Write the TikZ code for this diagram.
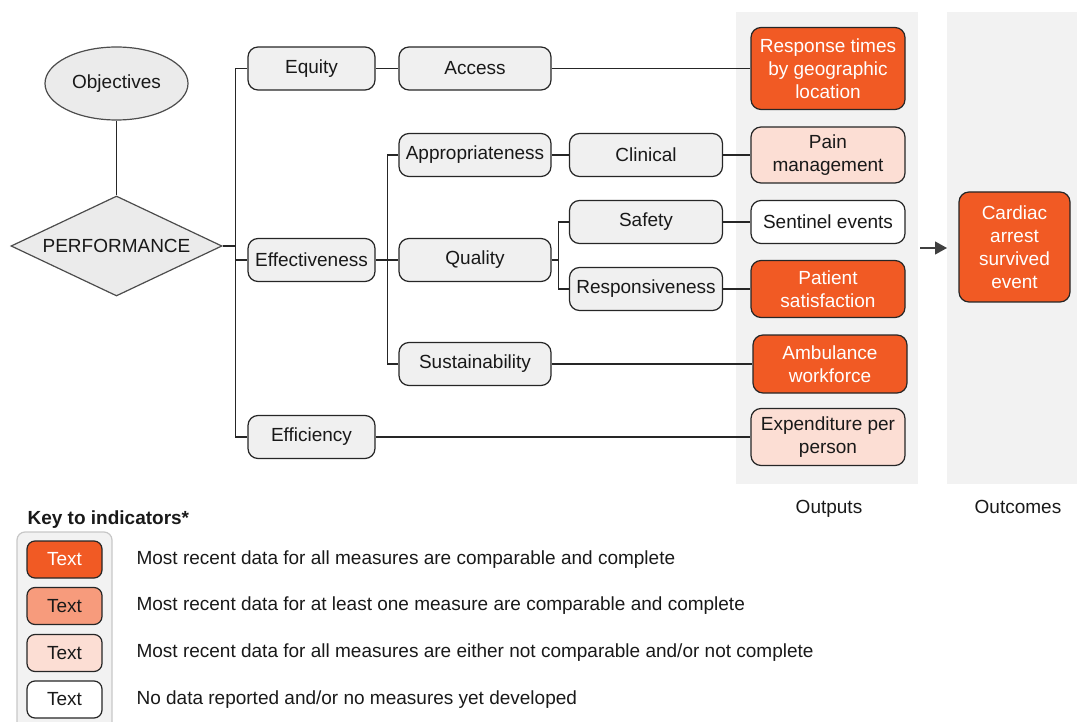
\documentclass[tikz,border=0pt]{standalone}
\usepackage{fontspec}
\setmainfont{Liberation Sans}
\usetikzlibrary{positioning,shapes.geometric,arrows.meta}
\usepackage{xcolor}
\definecolor{ind-full}{HTML}{F15A24}
\definecolor{ind-part}{HTML}{F79B7C}
\definecolor{ind-none}{HTML}{FCDED4}
\definecolor{band-color}{HTML}{F2F2F2}
\definecolor{box-color}{HTML}{F0F0F0}
\definecolor{line-color}{HTML}{262626}

\begin{document}
\begin{tikzpicture}[x=1pt, y=-1pt, font=\fontsize{19}{23}\selectfont, line width=1.2pt, color=line-color]

\useasboundingbox (0,0) rectangle (1077,722);

\fill[band-color] (736,12) rectangle (918,484);
\fill[band-color] (947,12) rectangle (1077,484);

\begin{scope}[every node/.style={inner sep=0pt, anchor=base, text=black!90}]
\node(outputs)  at (829,513) {Outputs};
\node(outcomes) at (1018,513) {Outcomes};
\end{scope}

\begin{scope}[every node/.style={draw=black!70, fill=black!8, inner sep=0pt, text=black!90}]
\node(obj)[ellipse, minimum width=143pt, minimum height=73pt] at (116.5,83.5) {Objectives};
\node(perf)[diamond, shape aspect=2.11, minimum width=211pt, minimum height=100pt] at (116.5,246) {PERFORMANCE};
\end{scope}

\begin{scope}[every node/.style={draw=line-color, rounded corners=10pt, fill=box-color, minimum height=43pt,
  inner sep=2pt, align=center, text=black!90},
  full/.style={fill=ind-full, text=white},
  none/.style={fill=ind-none},
  blank/.style={fill=white}]

\node(equity) [minimum width=127pt] at (311.5,68.5) {Equity};
\node(effect) [minimum width=127pt] at (311.5,260)  {Effectiveness};
\node(effic)  [minimum width=127pt] at (311.5,437)  {Efficiency};

\node(access)  [minimum width=152pt] at (475,68.5) {Access};
\node(approp)  [minimum width=152pt] at (475,155)  {Appropriateness};
\node(quality) [minimum width=152pt] at (475,260)  {Quality};
\node(sustain) [minimum width=152pt] at (475,364)  {Sustainability};

\node(clinical) [minimum width=153pt] at (646,155) {Clinical};
\node(safety)   [minimum width=153pt] at (646,222) {Safety};
\node(respons)  [minimum width=153pt] at (646,289) {Responsiveness};

\node(resptime) [full,  minimum width=154pt, minimum height=82pt] at (828,68.5) {Response times\\by geographic\\location};
\node(pain)     [none,  minimum width=154pt, minimum height=56pt] at (828,155)  {Pain\\management};
\node(sentinel) [blank, minimum width=154pt]                      at (828,222)  {Sentinel events};
\node(patient)  [full,  minimum width=154pt, minimum height=57pt] at (828,289)  {Patient\\satisfaction};
\node(ambul)    [full,  minimum width=154pt, minimum height=58pt] at (830,364)  {Ambulance\\workforce};
\node(expend)   [none,  minimum width=154pt, minimum height=57pt] at (828,437)  {Expenditure per\\person};

\node(cardiac)  [full,  minimum width=111pt, minimum height=110pt] at (1014.5,247) {Cardiac\\arrest\\survived\\event};
\end{scope}

\draw (obj) -- (perf);

\draw (perf.east) -- ++(13,0) coordinate(split1);
\draw (split1) |- (equity.west);
\draw (split1) |- (effect.west);
\draw (split1) |- (effic.west);

\draw (effect.east) -- ++(12,0) coordinate(split2);
\draw (split2) |- (approp.west);
\draw (split2) |- (quality.west);
\draw (split2) |- (sustain.west);

\draw (quality.east) -- ++(7,0) coordinate(split3);
\draw (split3) |- (safety.west);
\draw (split3) |- (respons.west);

\draw (equity)   -- (access);
\draw (access)   -- (resptime);
\draw (approp)   -- (clinical);
\draw (clinical) -- (pain);
\draw (safety)   -- (sentinel);
\draw (respons)  -- (patient);
\draw (sustain)  -- (ambul.west |- sustain);
\draw (effic)    -- (expend);

\coordinate(arrow-from) at (920,248);
\coordinate(arrow-to)   at (947,248);
\draw[-{Triangle[length=12pt, width=13pt]}, draw=black!75, fill=black!75] (arrow-from) -- (arrow-to);

\draw[draw=black!22, fill=band-color, rounded corners=8pt] (17,532) rectangle (112,745);

\begin{scope}[every node/.style={draw=line-color, rounded corners=8pt, minimum width=75pt, minimum height=37pt,
  inner sep=0pt, text=black!90}]
\node(key1) [fill=ind-full, text=white] at (64.5,559.5) {Text};
\node(key2) [fill=ind-part]             at (64.5,606)   {Text};
\node(key3) [fill=ind-none]             at (64.5,653)   {Text};
\node(key4) [fill=white]                at (64.5,699.5) {Text};
\end{scope}

\begin{scope}[every node/.style={anchor=west, inner sep=0pt, text=black!90}]
\node(keytitle) [font=\fontsize{19}{23}\selectfont\bfseries] at (27,520) {Key to indicators*};
\node(desc1) at (136,559.5) {Most recent data for all measures are comparable and complete};
\node(desc2) at (136,606)   {Most recent data for at least one measure are comparable and complete};
\node(desc3) at (136,653)   {Most recent data for all measures are either not comparable and/or not complete};
\node(desc4) at (136,699.5) {No data reported and/or no measures yet developed};
\end{scope}

\end{tikzpicture}
\end{document}
